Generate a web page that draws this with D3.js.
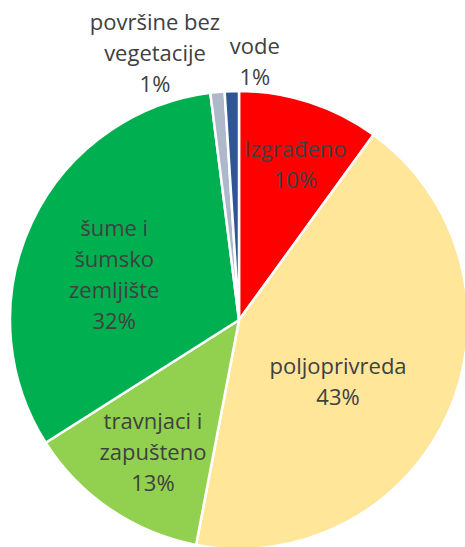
<!DOCTYPE html>
<html>
<head>
<meta charset="utf-8">
<script src="https://d3js.org/d3.v7.min.js"></script>
<style>
  body { margin: 0; background: #fff; }
  svg text { font-family: "Open Sans", "Noto Sans", sans-serif; fill: #404040; }
</style>
</head>
<body>
<div id="chart"></div>
<script>
// data
var categories = ["Izgrađeno", "poljoprivreda", "travnjaci i zapušteno", "šume i šumsko zemljište", "površine bez vegetacije", "vode"];
var values = [10, 43, 13, 32, 1, 1];
var labelLines = [
  ["Izgrađeno", "10%"],
  ["poljoprivreda", "43%"],
  ["travnjaci i", "zapušteno", "13%"],
  ["šume i", "šumsko", "zemljište", "32%"],
  ["površine bez", "vegetacije", "1%"],
  ["vode", "1%"]
];
var colors = ["#FF0000", "#FFE699", "#92D050", "#00B050", "#ADB9CA", "#2F5597"];

// label placement (radius as fraction of pie radius, angle in degrees from 12 o'clock)
var labelPlace = [[0.72, 20], [0.51, 122], [0.69, 213], [0.58, 290], [1.22, 342.5], [1.13, 3.5]];

var width = 465, height = 547;
var cx = 239, cy = 320, radius = 229;
var lineH = 31;

var svg = d3.select("#chart").append("svg")
  .attr("width", width)
  .attr("height", height);

var g = svg.append("g")
  .attr("transform", "translate(" + cx + "," + cy + ")");

var pie = d3.pie().sort(null).value(function (d) { return d; });
var arc = d3.arc().innerRadius(0).outerRadius(radius);
var arcs = pie(values);

g.selectAll("path.slice")
  .data(arcs)
  .enter()
  .append("path")
  .attr("class", "slice")
  .attr("d", arc)
  .attr("fill", function (d, i) { return colors[i]; })
  .attr("stroke", "#fff")
  .attr("stroke-width", 2.5)
  .attr("stroke-linejoin", "round");

// labels
var labels = g.selectAll("text.lbl")
  .data(arcs)
  .enter()
  .append("text")
  .attr("class", "lbl")
  .attr("text-anchor", "middle")
  .attr("font-size", 22)
  .attr("transform", function (d, i) {
    var r = labelPlace[i][0] * radius;
    var a = labelPlace[i][1] * Math.PI / 180;
    var p = d3.arc().innerRadius(r).outerRadius(r).startAngle(a).endAngle(a).centroid();
    return "translate(" + p[0] + "," + p[1] + ")";
  });

labels.each(function (d, i) {
  var lines = labelLines[i];
  var t = d3.select(this);
  var start = -(lines.length - 1) * lineH / 2;
  lines.forEach(function (s, k) {
    t.append("tspan")
      .attr("x", 0)
      .attr("y", start + k * lineH)
      .attr("dy", "0.35em")
      .text(s);
  });
});
</script>
</body>
</html>
